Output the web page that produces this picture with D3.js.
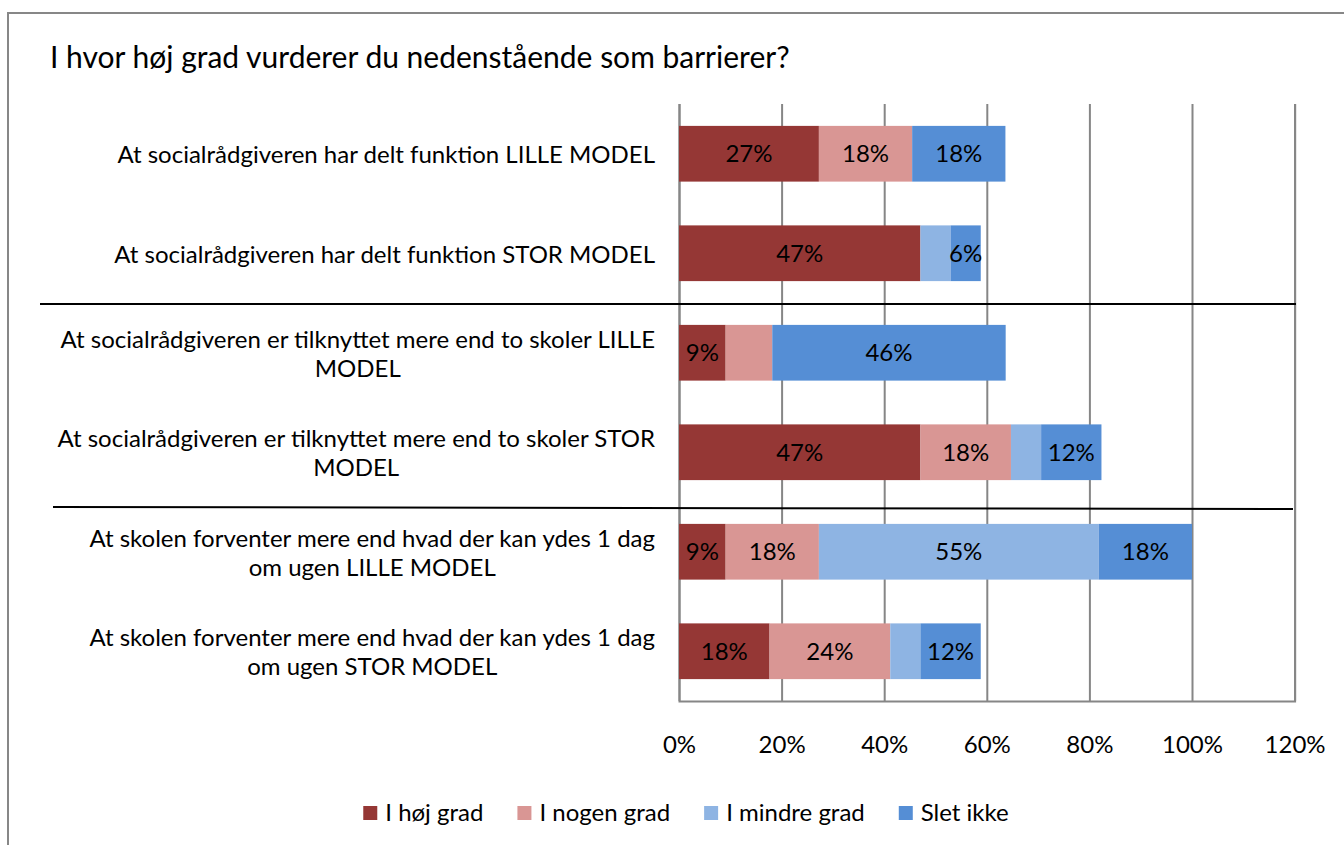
<!DOCTYPE html>
<html>
<head>
<meta charset="utf-8">
<script src="https://cdn.jsdelivr.net/npm/d3@7"></script>
<style>
  html, body { margin: 0; padding: 0; background: #fff; }
  svg text { font-family: Lato, "Open Sans", sans-serif; fill: #000; }
</style>
</head>
<body>
<div id="chart"></div>
<script>
;(function () {

    // Survey answers, percent of respondents.
    var categories = [
        'At socialrådgiveren har delt funktion LILLE MODEL',
        'At socialrådgiveren har delt funktion STOR MODEL',
        'At socialrådgiveren er tilknyttet mere end to skoler LILLE\nMODEL',
        'At socialrådgiveren er tilknyttet mere end to skoler STOR\nMODEL',
        'At skolen forventer mere end hvad der kan ydes 1 dag\nom ugen LILLE MODEL',
        'At skolen forventer mere end hvad der kan ydes 1 dag\nom ugen STOR MODEL'
    ];
    var seriesNames = ['I høj grad', 'I nogen grad', 'I mindre grad', 'Slet ikke'];
    var hoejGrad   = [27.27, 47.06,  9.09, 47.06,  9.09, 17.65];
    var nogenGrad  = [18.18,  0,     9.09, 17.65, 18.18, 23.53];
    var mindreGrad = [ 0,     5.88,  0,     5.88, 54.55,  5.88];
    var sletIkke   = [18.18,  5.88, 45.5,  11.76, 18.18, 11.76];
    var tickValues = [0, 20, 40, 60, 80, 100, 120];
    // [category index, series index] of segments that carry no value label
    var hiddenLabels = [[1, 2], [2, 1], [3, 2], [5, 2]];
    // horizontal rules drawn after these category indexes
    var rulesAfter = [1, 3];
    var title = 'I hvor høj grad vurderer du nedenstående som barrierer?';

    var colors = ['#953735', '#d99694', '#8eb4e3', '#558ed5'];

    var width = 1344, height = 845;
    var plot = { left: 679, right: 1294.6, top: 104, bottom: 701 };
    var fontSize = '24px';

    var rows = categories.map(function (c, i) {
        var r = { category: c };
        r[seriesNames[0]] = hoejGrad[i];
        r[seriesNames[1]] = nogenGrad[i];
        r[seriesNames[2]] = mindreGrad[i];
        r[seriesNames[3]] = sletIkke[i];
        return r;
    });

    var svg = d3.select('#chart').append('svg')
        .attr('width', width)
        .attr('height', height);

    // outer chart frame (runs off the right and bottom edges)
    svg.append('path')
        .attr('d', 'M8,' + (height + 5) + 'V13H' + (width + 5))
        .attr('fill', 'none')
        .attr('stroke', '#878787')
        .attr('stroke-width', 2);

    svg.append('text')
        .attr('x', 50)
        .attr('y', 68)
        .style('font-size', '30px')
        .text(title);

    var x = d3.scaleLinear().domain([0, 120]).range([plot.left, plot.right]);
    var y = d3.scaleBand().domain(categories)
        .range([plot.top, plot.bottom])
        .paddingInner(0.44)
        .paddingOuter(0.22);

    // gridlines + tick labels
    var xAxis = svg.append('g')
        .attr('transform', 'translate(0,' + plot.bottom + ')')
        .call(d3.axisBottom(x)
            .tickValues(tickValues)
            .tickSize(-(plot.bottom - plot.top))
            .tickPadding(35)
            .tickFormat(function (d) { return d + '%'; }));
    xAxis.select('.domain').attr('stroke', '#868686').attr('stroke-width', 2);
    xAxis.selectAll('.tick line').attr('stroke', '#868686').attr('stroke-width', 2);
    xAxis.selectAll('.tick text')
        .style('font-family', 'Lato, sans-serif')
        .style('font-size', fontSize)
        .attr('fill', '#000');

    var stack = d3.stack().keys(seriesNames);
    var layers = stack(rows);

    var hidden = {};
    hiddenLabels.forEach(function (h) { hidden[h[0] + '_' + h[1]] = true; });

    var layer = svg.selectAll('g.layer')
        .data(layers)
        .enter()
        .append('g')
        .attr('class', 'layer')
        .attr('fill', function (d, i) { return colors[i]; });

    layer.selectAll('rect')
        .data(function (d) { return d; })
        .enter()
        .append('rect')
        .attr('x', function (d) { return x(d[0]); })
        .attr('y', function (d) { return y(d.data.category); })
        .attr('width', function (d) { return x(d[1]) - x(d[0]); })
        .attr('height', y.bandwidth());

    layer.each(function (s, si) {
        d3.select(this).selectAll('text')
            .data(s.filter(function (d, ci) {
                return (d[1] - d[0]) > 0 && !hidden[ci + '_' + si];
            }))
            .enter()
            .append('text')
            .attr('x', function (d) { return (x(d[0]) + x(d[1])) / 2; })
            .attr('y', function (d) { return y(d.data.category) + y.bandwidth() / 2; })
            .attr('dy', '0.35em')
            .attr('text-anchor', 'middle')
            .style('font-size', fontSize)
            .style('fill', '#000')
            .text(function (d) { return Math.round(d[1] - d[0]) + '%'; });
    });

    // category labels: block right-aligned to 655, lines centred in the block
    var labelRight = 655, lineHeight = 29;
    categories.forEach(function (c) {
        var lines = c.split('\n');
        var g = svg.append('g');
        var texts = lines.map(function (l, i) {
            return g.append('text')
                .attr('y', y(c) + y.bandwidth() / 2 + 1 + (i - (lines.length - 1) / 2) * lineHeight)
                .attr('dy', '0.35em')
                .attr('text-anchor', 'middle')
                .style('font-size', fontSize)
                .text(l);
        });
        var maxW = d3.max(texts, function (t) { return t.node().getComputedTextLength(); });
        texts.forEach(function (t) { t.attr('x', labelRight - maxW / 2); });
    });

    // separator rules
    var ruleExtents = [[40, 1296, 1, 1], [53, 1293, 5, 7]];
    rulesAfter.forEach(function (ci, i) {
        var yy = y(categories[ci]) + y.bandwidth() + y.step() * y.paddingInner() / 2;
        var e = ruleExtents[i];
        svg.append('line')
            .attr('x1', e[0]).attr('x2', e[1])
            .attr('y1', yy + e[2]).attr('y2', yy + e[3])
            .attr('stroke', '#000')
            .attr('stroke-width', 2);
    });

    // legend, centred under the chart
    var legend = svg.append('g');
    var lx = 0, gap = 34;
    seriesNames.forEach(function (name, i) {
        var item = legend.append('g').attr('transform', 'translate(' + lx + ',0)');
        item.append('rect')
            .attr('x', 0).attr('y', -7)
            .attr('width', 14).attr('height', 14)
            .attr('fill', colors[i]);
        var t = item.append('text')
            .attr('x', 22)
            .attr('dy', '0.35em')
            .style('font-size', fontSize)
            .text(name);
        lx += 22 + t.node().getComputedTextLength() + gap;
    });
    var legendW = lx - gap;
    legend.attr('transform', 'translate(' + (686 - legendW / 2) + ',813)');

})();
</script>
</body>
</html>
